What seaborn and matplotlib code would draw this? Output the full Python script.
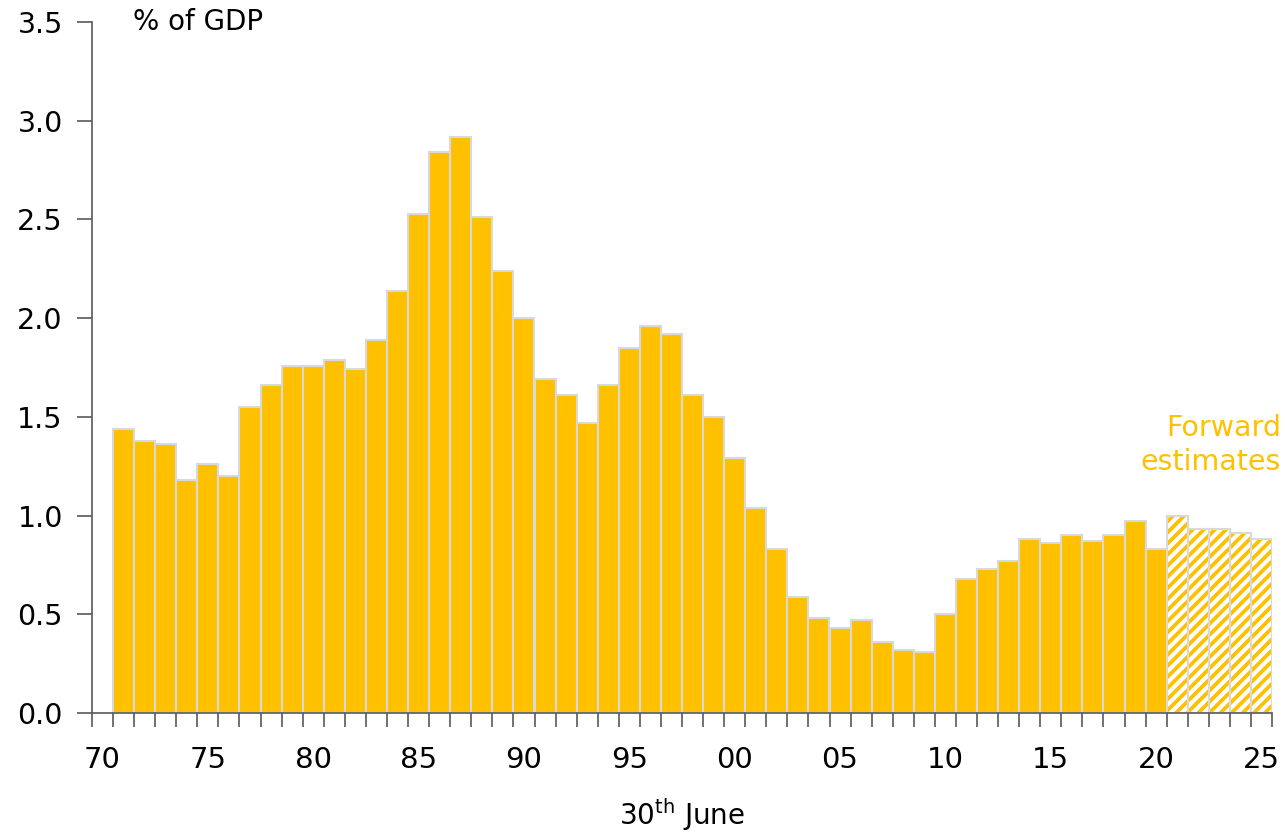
import matplotlib
matplotlib.use("Agg")
import matplotlib.pyplot as plt
from matplotlib.patches import Rectangle
import seaborn as sns
import pandas as pd
import numpy as np

years = list(range(1970, 2026))
values = [np.nan,
          1.44, 1.38, 1.36, 1.18, 1.26, 1.20, 1.55, 1.66, 1.76, 1.76,
          1.79, 1.74, 1.89, 2.14, 2.53, 2.84, 2.92, 2.51, 2.24, 2.00,
          1.69, 1.61, 1.47, 1.66, 1.85, 1.96, 1.92, 1.61, 1.50, 1.29,
          1.04, 0.83, 0.59, 0.48, 0.43, 0.47, 0.36, 0.32, 0.31, 0.50,
          0.68, 0.73, 0.77, 0.88, 0.86, 0.90, 0.87, 0.90, 0.97, 0.83,
          1.00, 0.93, 0.93, 0.91, 0.88]
forward_years = [2021, 2022, 2023, 2024, 2025]
tick_years = [1970, 1975, 1980, 1985, 1990, 1995, 2000, 2005, 2010, 2015, 2020, 2025]
tick_labels = ["70", "75", "80", "85", "90", "95", "00", "05", "10", "15", "20", "25"]
y_ticks = [0.0, 0.5, 1.0, 1.5, 2.0, 2.5, 3.0, 3.5]

YELLOW = "#FFC000"
EDGE = "#D9D9D9"
AXC = "#595959"

sns.set_theme(style="white")
plt.rcParams["font.family"] = ["DejaVu Sans"]
plt.rcParams["hatch.linewidth"] = 2.7
plt.rcParams["xtick.bottom"] = True
plt.rcParams["ytick.left"] = True

df = pd.DataFrame({"year": [str(y) for y in years], "value": values})

fig = plt.figure(figsize=(12.85, 8.32), dpi=100)
ax = fig.add_axes([92 / 1285, 119 / 832, (1272 - 92) / 1285, (713 - 22) / 832])

sns.barplot(data=df, x="year", y="value", order=[str(y) for y in years],
            color=YELLOW, saturation=1, width=1.0, edgecolor=EDGE,
            linewidth=1.5, errorbar=None, ax=ax)

fwd_idx = {years.index(y) for y in forward_years}
for p in list(ax.patches):
    c = int(round(p.get_x() + p.get_width() / 2))
    if c in fwd_idx:
        p.set_facecolor("white")
        p.set_edgecolor(YELLOW)
        p.set_hatch("///")
        p.set_linewidth(0)
        ax.add_patch(Rectangle(p.get_xy(), p.get_width(), p.get_height(),
                               fill=False, edgecolor=EDGE, linewidth=1.5,
                               zorder=p.get_zorder() + 0.1))

ax.set_xlim(-0.5, len(years) - 0.5)
ax.set_ylim(0, 3.5)
ax.set_yticks(y_ticks)
ax.set_yticklabels([f"{v:.1f}" for v in y_ticks])
ax.set_xticks([years.index(y) for y in tick_years])
ax.set_xticklabels(tick_labels)
ax.set_xticks(np.arange(-0.5, len(years), 1.0), minor=True)

ax.tick_params(axis="x", which="major", bottom=True, length=0, pad=24, labelsize=21,
               labelcolor="black")
ax.tick_params(axis="x", which="minor", bottom=True, length=10, width=1.2, color=AXC,
               direction="out")
ax.tick_params(axis="y", which="major", left=True, length=11, width=1.2, color=AXC,
               direction="out", pad=10, labelsize=20.5, labelcolor="black")

sns.despine(ax=ax, top=True, right=True)
for s in ["left", "bottom"]:
    ax.spines[s].set_color(AXC)
    ax.spines[s].set_linewidth(1.2)

ax.set_xlabel("30$^{\\mathregular{th}}$ June", fontsize=20, labelpad=16, color="black")
ax.set_ylabel("")
ax.text(0.035, 1.0, "% of GDP", transform=ax.transAxes, fontsize=20,
        ha="left", va="center", color="black")
ax.text(1.0076, 0.388, "Forward\nestimates", transform=ax.transAxes, fontsize=20.5,
        ha="right", va="center", color=YELLOW, linespacing=1.25, clip_on=False)

fig.savefig("out.png", dpi=100)
